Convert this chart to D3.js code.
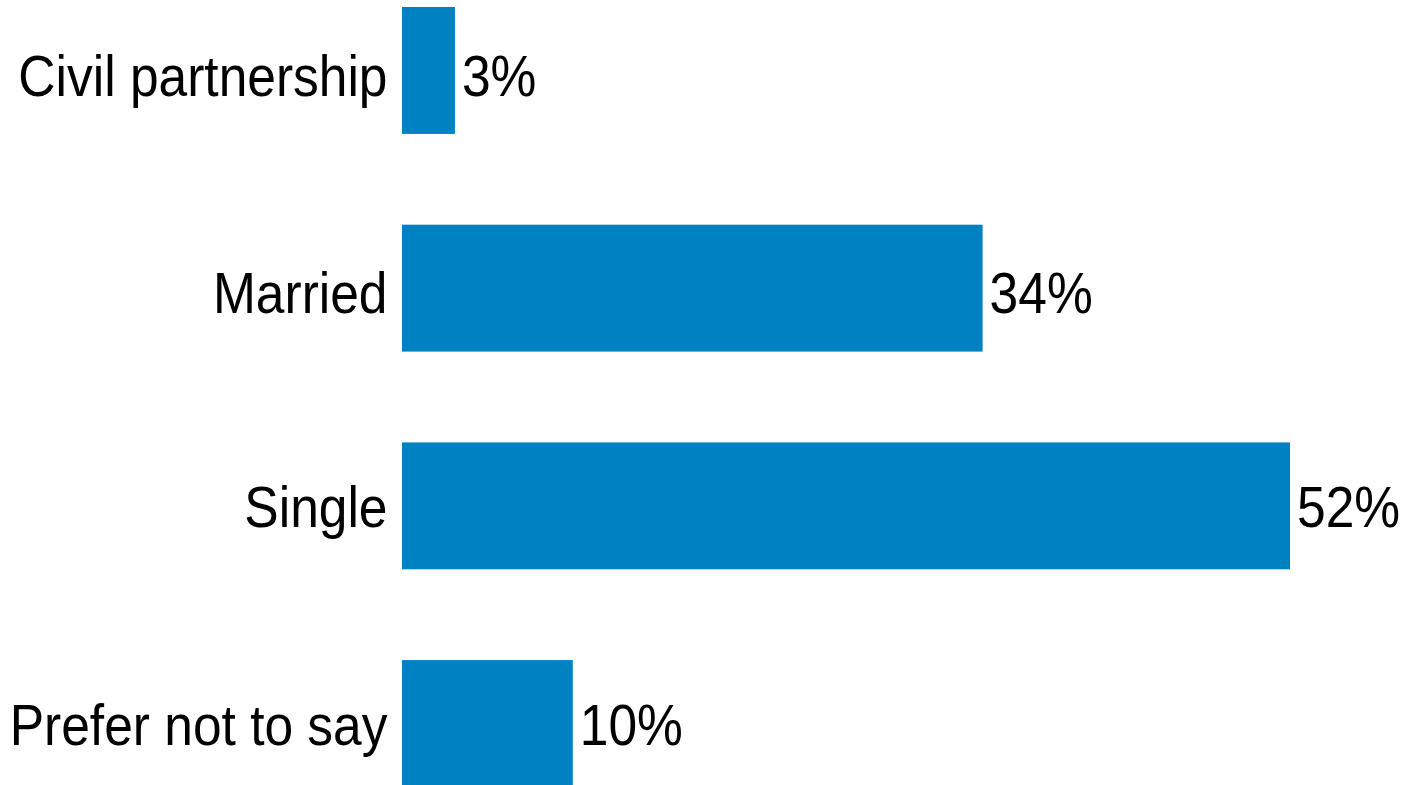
<!DOCTYPE html>
<html>
<head>
<meta charset="utf-8">
<script src="https://cdn.jsdelivr.net/npm/d3@7"></script>
<style>
html, body { margin: 0; padding: 0; background: #fff; }
svg { display: block; }
</style>
</head>
<body>
<svg id="chart" width="1405" height="785"></svg>
<script>
const categories = ["Civil partnership", "Married", "Single", "Prefer not to say"];
const values = [3.1, 34, 52, 10];
const valueLabels = ["3%", "34%", "52%", "10%"];

// layout
const W = 1405, H = 785;
const rowBaselineDy = [26, 24.5, 21, 21.5];
const svg = d3.select("#chart");
const x0 = 402;
const x = d3.scaleLinear().domain([0, 52]).range([x0, 1290]);
const y = d3.scaleBand().domain(categories).range([-38.4, 832.4]).paddingInner(0.417).paddingOuter(0.2085);

const color = "#0081c2";
const fs = 58, sx = 0.888;

svg.selectAll("rect.bar").data(categories).join("rect")
  .attr("class", "bar")
  .attr("x", x(0))
  .attr("y", d => y(d))
  .attr("width", (d, i) => x(values[i]) - x(0))
  .attr("height", y.bandwidth())
  .attr("fill", color);

// category labels
svg.selectAll("text.cat").data(categories).join("text")
  .attr("class", "cat")
  .attr("transform", (d, i) => `translate(387.5,${y(d) + y.bandwidth() / 2 + rowBaselineDy[i]}) scale(${sx},1)`)
  .attr("text-anchor", "end")
  .attr("font-family", "Liberation Sans, Arial, sans-serif")
  .attr("font-size", fs)
  .attr("fill", "#000")
  .text(d => d);

// value labels
svg.selectAll("text.val").data(categories).join("text")
  .attr("class", "val")
  .attr("transform", (d, i) => `translate(${x(values[i]) + 7},${y(d) + y.bandwidth() / 2 + rowBaselineDy[i]}) scale(${sx},1)`)
  .attr("text-anchor", "start")
  .attr("font-family", "Liberation Sans, Arial, sans-serif")
  .attr("font-size", fs)
  .attr("fill", "#000")
  .text((d, i) => valueLabels[i]);
</script>
</body>
</html>
